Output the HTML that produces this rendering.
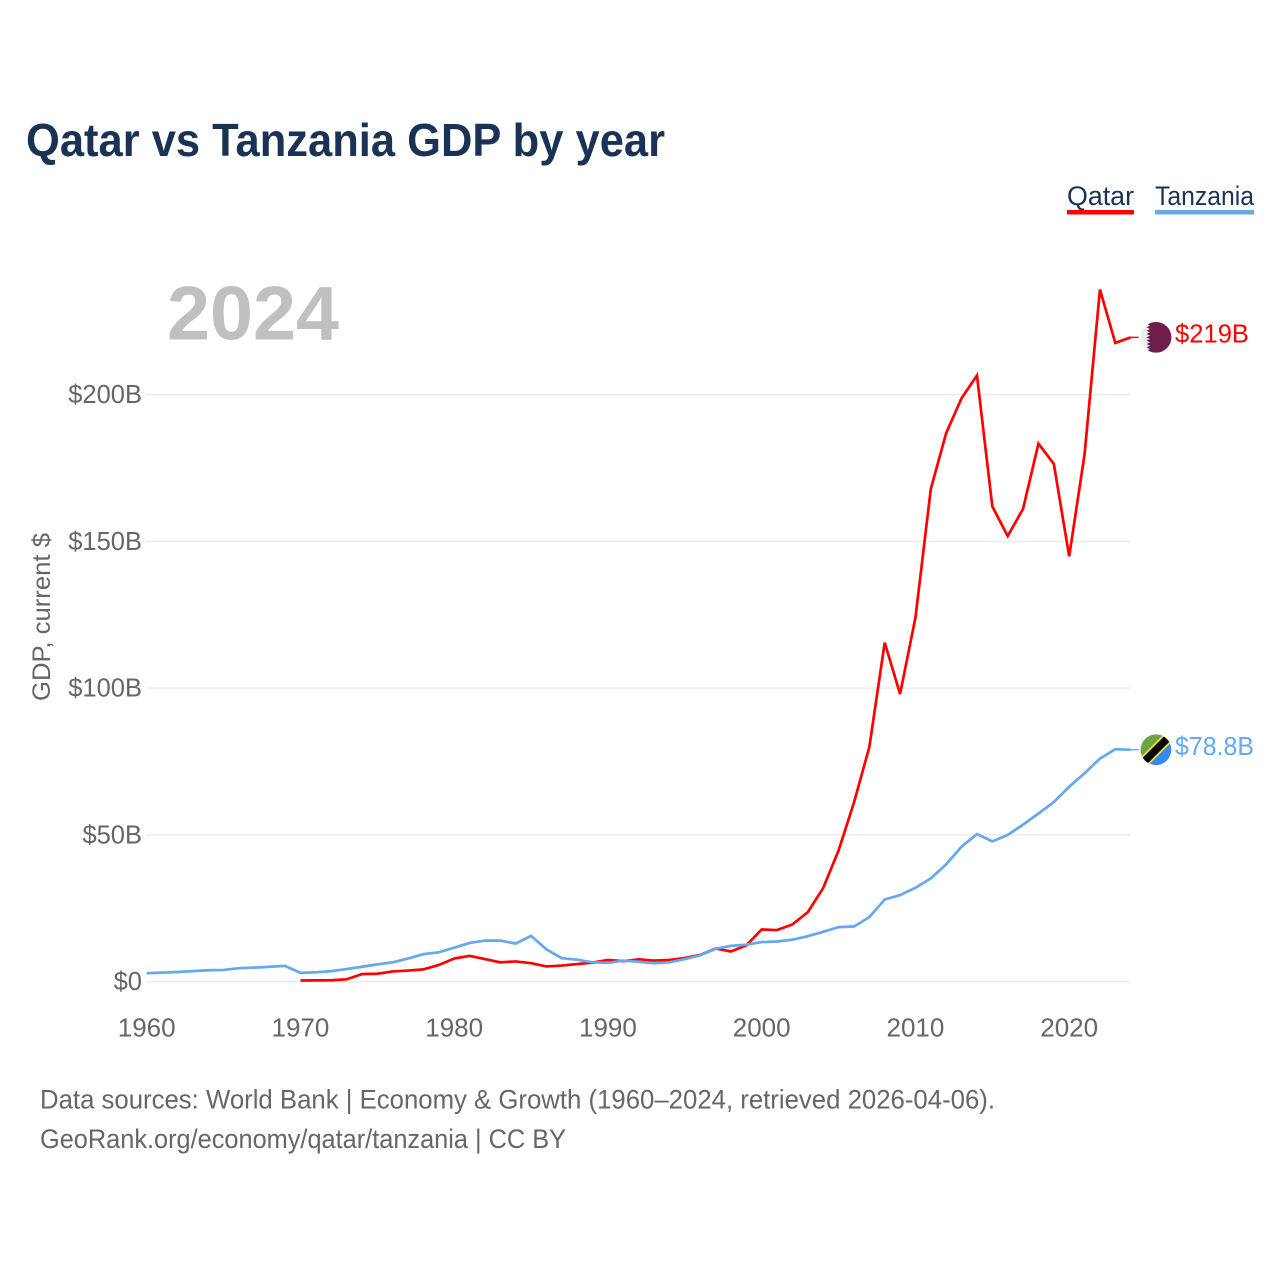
<!DOCTYPE html>
<html lang="en">
<head>
<meta charset="utf-8">
<title>Qatar vs Tanzania GDP by year</title>
<style>
html,body{margin:0;padding:0;background:#fff;}
svg{display:block;}
text{font-family:"Liberation Sans",sans-serif;}
</style>
</head>
<body>
<svg id="chart" xmlns="http://www.w3.org/2000/svg" width="1280" height="1280" viewBox="0 0 1280 1280">
  <rect width="1280" height="1280" fill="#fff"/>
  <text x="26" y="156" font-size="46" font-weight="700" fill="#1a3355" textLength="639" lengthAdjust="spacingAndGlyphs">Qatar vs Tanzania GDP by year</text>

  <g>
    <text x="1067" y="205" font-size="27" fill="#1a3355" textLength="67" lengthAdjust="spacingAndGlyphs">Qatar</text>
    <rect x="1067" y="210" width="67" height="4.5" fill="#ff0000"/>
  </g>
  <g>
    <text x="1155" y="205" font-size="27" fill="#1a3355" textLength="99" lengthAdjust="spacingAndGlyphs">Tanzania</text>
    <rect x="1155" y="210" width="99" height="4.5" fill="#64a8ee"/>
  </g>

  <text x="167" y="339.5" font-size="76" font-weight="700" fill="#c0c0c0" textLength="172" lengthAdjust="spacingAndGlyphs">2024</text>

  <text transform="translate(50,701) rotate(-90)" x="0" y="0" font-size="25" fill="#666" textLength="168" lengthAdjust="spacingAndGlyphs">GDP, current $</text>

  <g id="grid"></g>
  <g id="yTicks"></g>
  <g id="xTicks"></g>
  <g id="series"></g>

  <defs>
    <clipPath id="flagClip"><circle cx="0" cy="0" r="15.3"/></clipPath>
  </defs>

  <g id="flagQatar">
    <g clip-path="url(#flagClip)">
      <rect x="-16" y="-16" width="32" height="32" fill="#eeeeee"/>
      <path d="M16 -15 H-6 L-9.5 -13.3 L-6 -11.7 L-9.5 -10 L-6 -8.3 L-9.5 -6.7 L-6 -5 L-9.5 -3.3 L-6 -1.7 L-9.5 0 L-6 1.7 L-9.5 3.3 L-6 5 L-9.5 6.7 L-6 8.3 L-9.5 10 L-6 11.7 L-9.5 13.3 L-6 15 H16 Z" fill="#6f1d4b"/>
      <rect x="-6" y="-16" width="22" height="32" fill="#6f1d4b"/>
    </g>
  </g>
  <g id="flagTanzania">
    <g clip-path="url(#flagClip)">
      <rect x="-16" y="-16" width="32" height="32" fill="#338af3"/>
      <path d="M-16 -16 H16 L-16 16 Z" fill="#6da544"/>
      <line x1="-17" y1="17" x2="17" y2="-17" stroke="#ffda44" stroke-width="11"/>
      <line x1="-17" y1="17" x2="17" y2="-17" stroke="#000" stroke-width="7.5"/>
    </g>
  </g>

  <text id="labelQatar" x="1175" font-size="26" fill="#ff0000" textLength="74" lengthAdjust="spacingAndGlyphs"></text>
  <text id="labelTanzania" x="1175" font-size="26" fill="#64a8ee" textLength="79" lengthAdjust="spacingAndGlyphs"></text>

  <g>
    <text x="40" y="1108.5" font-size="27" fill="#666" textLength="955" lengthAdjust="spacingAndGlyphs">Data sources: World Bank | Economy &amp; Growth (1960–2024, retrieved 2026-04-06).</text>
    <a><text x="40" y="1148" font-size="27" fill="#666" textLength="526" lengthAdjust="spacingAndGlyphs">GeoRank.org/economy/qatar/tanzania | CC BY</text></a>
  </g>
</svg>
<script>
const qatarStartYear = 1970;
const tanzaniaStartYear = 1960;
const qatarValues = [0.4,0.45,0.5,0.8,2.6,2.7,3.5,3.8,4.2,5.7,7.9,8.8,7.7,6.6,6.9,6.3,5.2,5.5,6.0,6.5,7.4,7.0,7.6,7.2,7.4,8.1,9.1,11.3,10.3,12.4,17.8,17.6,19.5,23.7,31.9,44.7,61.0,79.9,115.5,98.0,124,167.9,186.9,198.8,206.5,161.9,151.8,161.1,183.3,176.4,144.9,179.7,235.8,217.6,219.5];
const tanzaniaValues = [2.9,3.1,3.3,3.6,3.9,4.0,4.6,4.8,5.1,5.4,3.0,3.2,3.6,4.3,5.1,5.9,6.6,7.9,9.4,10.0,11.6,13.2,14.0,14.0,13.0,15.6,11.0,8.0,7.5,6.6,6.4,7.2,6.8,6.3,6.6,7.7,9.0,11.2,12.2,12.6,13.5,13.7,14.3,15.5,17.0,18.6,18.8,22.0,28.0,29.5,32.0,35.2,40.0,46.0,50.3,47.8,50.0,53.5,57.3,61.2,66.4,71.0,76.0,79.2,79.0];
const yTickValues = [0,50,100,150,200];
const yTickLabels = ["$0","$50B","$100B","$150B","$200B"];
const xTickValues = [1960,1970,1980,1990,2000,2010,2020];
const endLabelQatar = "$219B";
const endLabelTanzania = "$78.8B";

const NS = "http://www.w3.org/2000/svg";
const xMin = 1960, xMax = 2024, yMin = 0, yMax = 200;
const plotLeft = 146.7, plotRight = 1130.7, plotBottom = 981.7, plotTop = 394.6;
function xScale(year){ return plotLeft + (year - xMin) / (xMax - xMin) * (plotRight - plotLeft); }
function yScale(v){ return plotBottom - (v - yMin) / (yMax - yMin) * (plotBottom - plotTop); }
function make(tag, attrs, parent){
  const el = document.createElementNS(NS, tag);
  for (const k in attrs) el.setAttribute(k, attrs[k]);
  parent.appendChild(el);
  return el;
}
const grid = document.getElementById("grid");
const yTicks = document.getElementById("yTicks");
const xTicks = document.getElementById("xTicks");
const series = document.getElementById("series");

yTickValues.forEach(function(v, i){
  const y = yScale(v);
  const line = make("line", {x1: plotLeft, x2: plotRight, y1: y, y2: y, stroke: "#ececec", "stroke-width": 1.5}, grid);
  
  
  const t = make("text", {x: 142, y: y + 8.5, "text-anchor": "end", "font-size": 25.5, fill: "#666"}, yTicks);
  t.textContent = yTickLabels[i];
  
  
});
xTickValues.forEach(function(v){
  const t = make("text", {x: xScale(v), y: 1036.5, "text-anchor": "middle", "font-size": 26, fill: "#666"}, xTicks);
  t.textContent = String(v);
  
  
});
function drawSeries(values, startYear, color, name){
  const pts = values.map(function(v, i){ return xScale(startYear + i).toFixed(2) + "," + yScale(v).toFixed(2); }).join(" ");
  const line = make("polyline", {points: pts, fill: "none", stroke: color, "stroke-width": 2.7, "stroke-linejoin": "miter"}, series);
  
  
  const lastY = yScale(values[values.length - 1]);
  const leader = make("line", {x1: xScale(startYear + values.length - 1), x2: xScale(startYear + values.length - 1) + 8, y1: lastY, y2: lastY, stroke: color, "stroke-width": 1.4}, series);
  
  
}
drawSeries(qatarValues, qatarStartYear, "#ff0000", "qatar-line");
drawSeries(tanzaniaValues, tanzaniaStartYear, "#64a8ee", "tanzania-line");

const qLast = yScale(qatarValues[qatarValues.length - 1]);
const tLast = yScale(tanzaniaValues[tanzaniaValues.length - 1]);
document.getElementById("flagQatar").setAttribute("transform", "translate(1156," + qLast + ")");
document.getElementById("flagTanzania").setAttribute("transform", "translate(1156," + tLast + ")");
const lq = document.getElementById("labelQatar");
lq.textContent = endLabelQatar;
lq.setAttribute("y", qLast + 5);
const lt = document.getElementById("labelTanzania");
lt.textContent = endLabelTanzania;
lt.setAttribute("y", tLast + 5);
</script>
</body>
</html>
